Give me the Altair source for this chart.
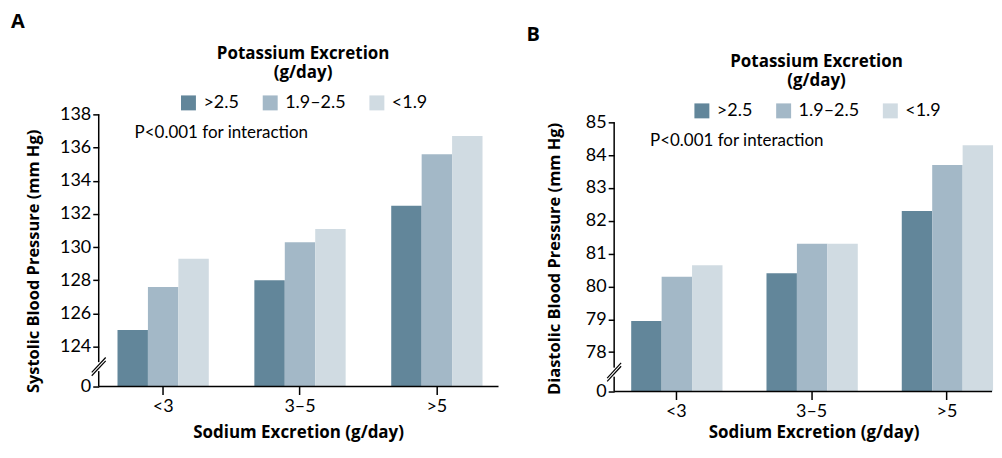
import altair as alt
import pandas as pd

# ---- data ----
sodium = ["<3", "3–5", ">5"]
potassium = [">2.5", "1.9–2.5", "<1.9"]
sbp = [[125.0, 127.6, 129.3],
       [128.0, 130.3, 131.1],
       [132.5, 135.6, 136.7]]
dbp = [[78.95, 80.3, 80.65],
       [80.4, 81.3, 81.3],
       [82.3, 83.7, 84.3]]
sbp_ticks = [124, 126, 128, 130, 132, 134, 136, 138]
dbp_ticks = [78, 79, 80, 81, 82, 83, 84, 85]
colors = ["#62869a", "#a3b8c7", "#d0dbe2"]
ptext = "P<0.001 for interaction"

NARROW = "Liberation Sans Narrow, Lato"
SANS = "Lato, Open Sans, sans-serif"
BOLD = "Open Sans, Lato, sans-serif"


def panel(values, letter, ytitle, ymin, ytop, ymax, ticks, height, width, x_po, x_align,
          brk, brk_half, brk_off, dy, ytitle_x, ytitle_y, legend_x, xtitle_y, letter_y):
    rows = []
    for i, s in enumerate(sodium):
        for j, k in enumerate(potassium):
            rows.append({"Sodium": s, "Potassium": k, "BP": values[i][j]})
    df = pd.DataFrame(rows)

    yscale = alt.Scale(domain=[ymin, ymax], nice=False, zero=False)
    bars = alt.Chart(df).mark_bar(opacity=1).encode(
        x=alt.X("Sodium:N", sort=sodium,
                scale=alt.Scale(paddingInner=0.333, paddingOuter=x_po, align=x_align),
                axis=alt.Axis(title="Sodium Excretion (g/day)", labelAngle=0,
                              labelFont=NARROW, labelFontSize=18, labelColor="black",
                              labelPadding=3, tickSize=8, tickWidth=1.5, tickColor="black",
                              domain=False,
                              titleFont=BOLD, titleFontSize=17, titleFontWeight="bold",
                              titleColor="black", titleX=200, titleY=xtitle_y,
                              titleBaseline="middle", zindex=1)),
        xOffset=alt.XOffset("Potassium:N", sort=potassium,
                            scale=alt.Scale(paddingInner=0, paddingOuter=0)),
        y=alt.Y("BP:Q", scale=yscale,
                axis=alt.Axis(title=ytitle, values=[ymin] + ticks,
                              tickCount=len(ticks) + 1,
                              labelExpr=f"datum.value < {ticks[0]} ? '0' : datum.label",
                              labelOverlap=False, labelFlush=False,
                              grid=False, labelFont=NARROW, labelFontSize=18,
                              labelColor="black", labelPadding=2, tickSize=6,
                              tickWidth=1.5, tickColor="black", domain=False,
                              titleFont=BOLD, titleFontSize=16.5,
                              titleFontWeight="bold", titleColor="black",
                              titleX=ytitle_x, titleY=ytitle_y)),
        y2=alt.datum(ymin),
        color=alt.Color("Potassium:N", sort=potassium,
                        scale=alt.Scale(domain=potassium, range=colors),
                        legend=alt.Legend(title=["Potassium Excretion", "(g/day)"],
                                          orient="none", legendX=legend_x, legendY=-69 + dy,
                                          direction="horizontal", titleAnchor="middle",
                                          titleAlign="center", titleFont=BOLD,
                                          titleFontSize=17, titleFontWeight="bold",
                                          titleColor="black", titleLineHeight=20,
                                          titlePadding=11.5, labelFont=NARROW,
                                          labelFontSize=18, labelColor="black",
                                          symbolType="square", symbolSize=225,
                                          symbolStrokeWidth=0, symbolOpacity=1,
                                          columnPadding=22, labelOffset=6)),
    )

    # y-axis line (stops at the top tick) and x-axis line (spans the plot width)
    axis_line = alt.Chart(pd.DataFrame({"a": [ymin], "b": [ytop]})).mark_rule(
        color="black", strokeWidth=1.5).encode(
        x=alt.value(0), y=alt.Y("a:Q", scale=yscale), y2="b:Q")
    base_line = alt.Chart(pd.DataFrame({"a": [ymin]})).mark_rule(
        color="black", strokeWidth=1.5).encode(
        x=alt.value(0), x2=alt.value(width), y=alt.Y("a:Q", scale=yscale))

    gap = alt.Chart(pd.DataFrame({"a": [brk - brk_half * 0.6], "b": [brk + brk_half * 0.6]})).mark_rule(
        color="white", strokeWidth=5).encode(
        x=alt.value(0), y=alt.Y("a:Q", scale=yscale), y2="b:Q")

    lines = []
    for off in (-brk_off, brk_off):
        d = pd.DataFrame({"a": [brk - brk_half + off], "b": [brk + brk_half + off]})
        lines.append(alt.Chart(d).mark_rule(color="black", strokeWidth=1.2).encode(
            x=alt.value(-7), x2=alt.value(7),
            y=alt.Y("a:Q", scale=yscale), y2="b:Q"))

    ptxt = alt.Chart(pd.DataFrame({"t": [ptext]})).mark_text(
        align="left", baseline="middle", font=SANS, fontSize=17, color="black").encode(
        x=alt.value(36), y=alt.value(19 + dy), text="t:N")

    lab = alt.Chart(pd.DataFrame({"t": [letter]})).mark_text(
        align="left", baseline="top", font=BOLD, fontSize=20, fontWeight="bold",
        color="black").encode(x=alt.value(-88), y=alt.value(letter_y), text="t:N")

    layers = [bars, axis_line, base_line, gap] + lines + [ptxt, lab]
    return alt.layer(*layers).properties(width=width, height=height)


pa = panel(sbp, "A", "Systolic Blood Pressure (mm Hg)", 121.6, 138, 138, sbp_ticks,
           273, 401, 0.127, 0.54, 122.8, 0.45, 0.1, 0, -57, 147, 81, 46, -103)
pb = panel(dbp, "B", "Diastolic Blood Pressure (mm Hg)", 76.8, 85, 85.243, dbp_ticks,
           278, 379, 0.063, 1.0, 77.39, 0.23, 0.05, 8, -52, 144.5, 79, 41, -90)

chart = alt.hconcat(pa, pb, spacing=27).resolve_scale(
    color="independent", x="independent", y="independent").resolve_legend(
    color="independent").properties(
    padding={"left": 3, "top": 3, "right": 0, "bottom": 21}).configure_view(stroke=None)

chart.save("out.html", embed_options={"renderer": "svg", "actions": False})
